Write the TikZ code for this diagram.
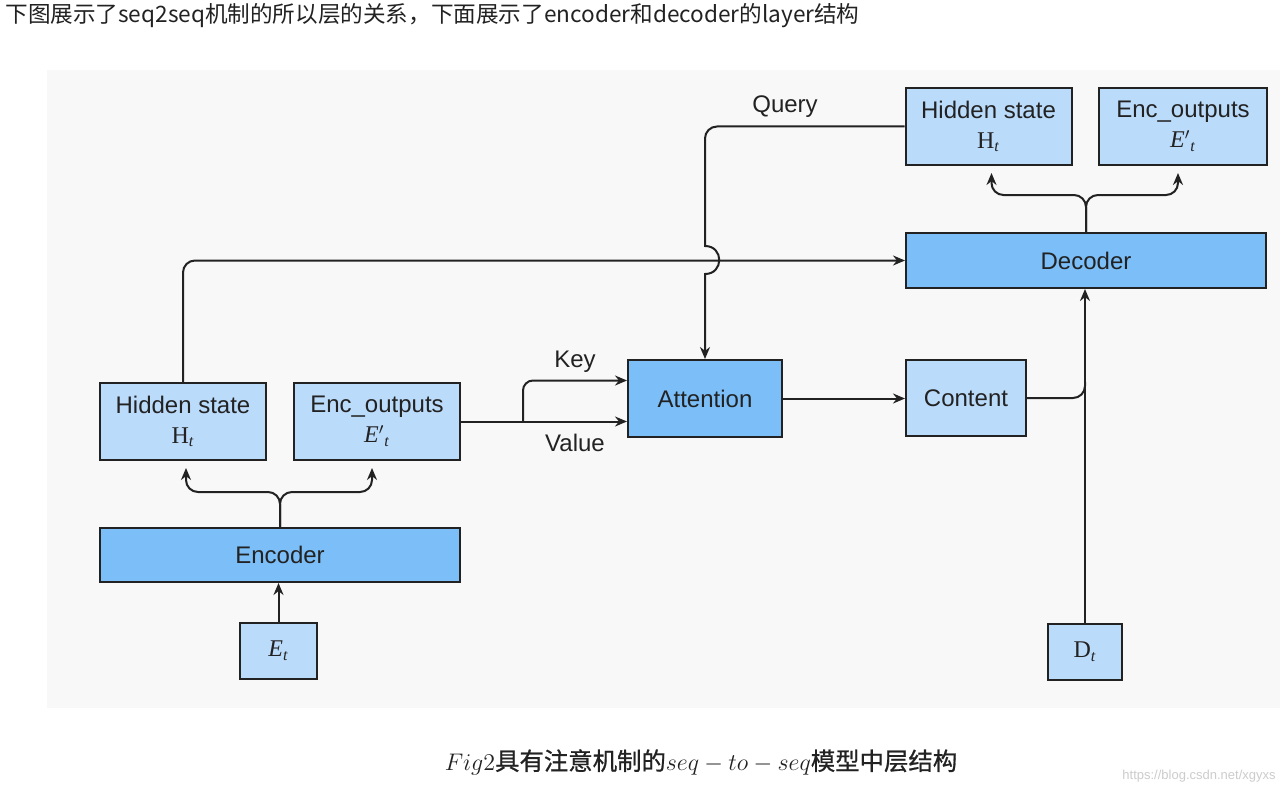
\documentclass[tikz,border=0pt]{standalone}
\usepackage{fontspec}
\setmainfont{Liberation Sans}
\newfontfamily\cjk{Noto Sans CJK SC}
\newfontfamily\cjkmid{Noto Sans CJK SC}[FakeBold=0.8]
\newfontfamily\tms{Liberation Serif}
\usetikzlibrary{arrows.meta}
\definecolor{panelbg}{HTML}{F8F8F8}
\definecolor{boxlight}{HTML}{BBDBFB}
\definecolor{boxdark}{HTML}{7BBEF8}
\definecolor{inkgray}{HTML}{222222}
\newcommand{\subt}{\textsubscript{\itshape t}}

\begin{document}
\begin{tikzpicture}[x=0.5pt,y=-0.5pt,
    layer/.style={draw=inkgray,line width=1pt,fill=boxlight,inner sep=0pt,
        align=center,font=\fontsize{12}{15}\selectfont,text=inkgray},
    block/.style={layer,fill=boxdark},
    conn/.style={draw=inkgray,line width=1pt},
    arr/.style={conn,-{Stealth[length=6pt,width=5pt]}},
    lbl/.style={font=\fontsize{12}{14}\selectfont,text=inkgray}]
    \useasboundingbox (0,0) rectangle (1280,792);
    \fill[white] (0,0) rectangle (1280,792);
    \fill[panelbg] (47,70) rectangle (1280,708);
    % heading and caption
    \node[anchor=west,inner sep=0pt,text=inkgray,font=\cjk\fontsize{11.3}{13}\selectfont] (intro) at (5,16)
        {下图展示了seq2seq机制的所以层的关系，下面展示了encoder和decoder的layer结构};
    \node[text=inkgray,font=\fontsize{12.2}{14}\selectfont] (cap) at (701,762)
        {$Fig2${\cjkmid 具有注意机制的}$seq-to-seq${\cjkmid 模型中层结构}};
    \node[anchor=east,inner sep=0pt,text=black!20,font=\fontsize{6.5}{8}\selectfont] (wmark) at (1276,776)
        {https://blog.csdn.net/xgyxs};
    % encoder side
    \node[layer,minimum width=38.5pt,minimum height=28pt] (Et) at (278.5,651) {{\tms\itshape E\subt}};
    \node[block,minimum width=180pt,minimum height=27pt] (enc) at (280,555) {Encoder};
    \node[layer,minimum width=83pt,minimum height=38.5pt] (hsE) at (183,421.5) {Hidden state\\{\tms H\subt}};
    \node[layer,minimum width=83pt,minimum height=38.5pt] (eoE) at (377,421.5) {Enc\_outputs\\{\tms\itshape E$'$\subt}};
    % attention and decoder side
    \node[block,minimum width=77pt,minimum height=38.5pt] (att) at (705,398.5) {Attention};
    \node[layer,minimum width=60pt,minimum height=38pt] (cnt) at (966,398) {Content};
    \node[block,minimum width=180pt,minimum height=27.5pt] (dec) at (1086,260.5) {Decoder};
    \node[layer,minimum width=83pt,minimum height=38.5pt] (hsD) at (988.5,126.5) {Hidden state\\{\tms H\subt}};
    \node[layer,minimum width=84pt,minimum height=38.5pt] (eoD) at (1183,126.5) {Enc\_outputs\\{\tms\itshape E$'$\subt}};
    \node[layer,minimum width=37pt,minimum height=28pt] (Dt) at (1085,652) {{\tms D\subt}};
    % labels
    \node[lbl] (qlbl) at (785,107) {Query};
    \node[lbl] (klbl) at (575,362) {Key};
    \node[lbl] (vlbl) at (575,443) {Value};
    % encoder connectors
    \draw[arr] (Et.north) -- (Et.north |- enc.south);
    \coordinate (efork) at (280,492);
    \draw[arr,rounded corners=6pt,shorten >=3.5pt] (enc.north) -- (efork) -| ([xshift=1.5pt]hsE.south);
    \draw[arr,rounded corners=6pt,shorten >=3.5pt] (enc.north) -- (efork) -| ([xshift=-2.5pt]eoE.south);
    \draw[arr] (hsE.north) [rounded corners=6pt] |- (dec.west);
    % key and value
    \draw[arr] (eoE.east) -- (eoE.east -| att.west);
    \coordinate (kfork) at ([xshift=31pt]eoE.east);
    \draw[arr,rounded corners=5pt] (kfork) |- ([yshift=9pt]att.west);
    % query, jumping over the decoder line
    \coordinate (qtop) at (705,200);
    \coordinate (qjump) at (705,246);
    \coordinate (qland) at (705,274);
    \draw[arr] (hsD.west) [rounded corners=6pt] -| (qtop) [sharp corners] -- (qjump)
        .. controls (724,246) and (724,274) .. (qland) -- (att.north);
    % attention to decoder
    \draw[arr] (att.east) -- (att.east -| cnt.west);
    \coordinate (cmerge) at (cnt.east -| Dt.north);
    \draw[conn,rounded corners=6pt] (cnt.east) -| ([yshift=8pt]cmerge);
    \draw[arr] (Dt.north) -- (Dt.north |- dec.south);
    \coordinate (dfork) at (1086,195);
    \draw[arr,rounded corners=6pt,shorten >=3.5pt] (dec.north) -- (dfork) -| ([xshift=1.5pt]hsD.south);
    \draw[arr,rounded corners=6pt,shorten >=3.5pt] (dec.north) -- (dfork) -| ([xshift=-2.5pt]eoD.south);
\end{tikzpicture}
\end{document}
